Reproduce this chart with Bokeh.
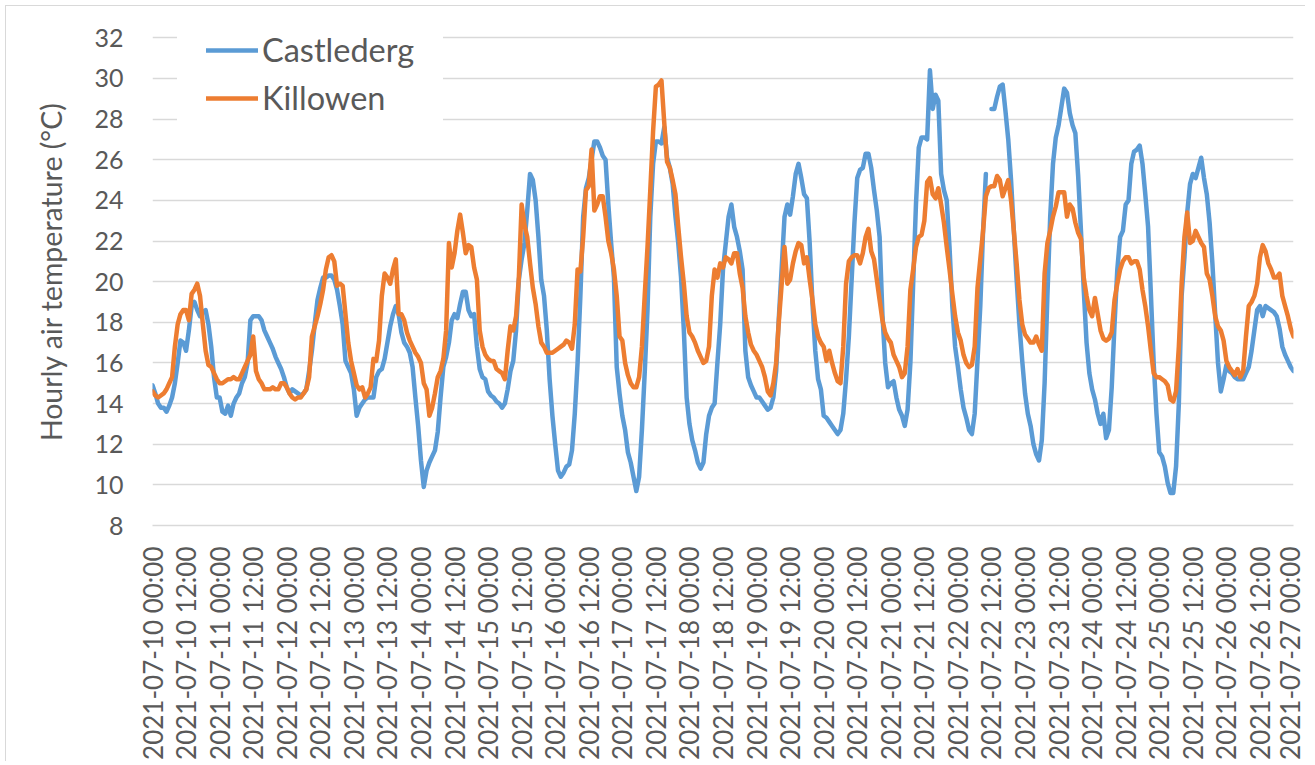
import math
from datetime import datetime, timedelta
from bokeh.plotting import figure
from bokeh.models import Range1d, FixedTicker, DatetimeTickFormatter, Legend, LegendItem
from bokeh.embed import file_html
from bokeh.resources import INLINE

nan = float("nan")

# Hourly air temperature (°C), 2021-07-10 00:00 .. 2021-07-27 00:00, one row per day
castlederg = [
    14.9, 14.5, 14.0, 13.8, 13.8, 13.6, 13.9, 14.3, 15.0, 16.0, 17.1, 17.0, 16.6, 17.6, 18.8, 19.0, 18.6, 18.3, 18.5, 18.6, 17.9, 16.8, 15.3, 14.3,
    14.3, 13.6, 13.5, 13.9, 13.4, 14.0, 14.3, 14.5, 15.0, 15.3, 16.0, 18.1, 18.3, 18.3, 18.3, 18.1, 17.6, 17.3, 17.0, 16.7, 16.3, 16.0, 15.7, 15.3,
    14.8, 14.5, 14.7, 14.6, 14.5, 14.4, 14.5, 14.7, 15.6, 16.6, 17.9, 19.1, 19.7, 20.2, 20.2, 20.3, 20.3, 20.1, 19.6, 18.8, 17.9, 16.1, 15.8, 15.5,
    14.7, 13.4, 13.8, 14.0, 14.2, 14.3, 14.3, 14.3, 15.3, 15.6, 15.7, 16.2, 17.0, 17.8, 18.4, 18.8, 18.4, 17.5, 17.0, 16.8, 16.5, 15.8, 14.3, 12.9,
    11.2, 9.9, 10.7, 11.1, 11.4, 11.7, 12.6, 14.3, 15.8, 16.3, 17.0, 18.1, 18.4, 18.2, 18.9, 19.5, 19.5, 18.6, 18.3, 18.4, 16.8, 15.7, 15.3, 15.2,
    14.6, 14.4, 14.3, 14.1, 14.0, 13.8, 14.0, 14.7, 15.6, 16.1, 17.6, 20.1, 21.1, 21.9, 23.5, 25.3, 25.0, 24.0, 22.2, 20.1, 19.3, 17.6, 15.2, 13.4,
    12.0, 10.7, 10.4, 10.6, 10.9, 11.0, 11.7, 13.5, 16.0, 19.3, 23.2, 24.6, 25.1, 26.0, 26.9, 26.9, 26.6, 26.2, 26.0, 23.8, 21.9, 20.2, 15.8, 14.5,
    13.4, 12.7, 11.6, 11.1, 10.4, 9.7, 10.4, 12.7, 15.5, 18.6, 23.2, 25.8, 26.9, 26.9, 26.8, 27.6, 26.1, 25.6, 24.8, 23.2, 21.9, 20.2, 17.6, 14.3,
    13.0, 12.2, 11.7, 11.1, 10.8, 11.1, 12.5, 13.4, 13.8, 14.0, 16.0, 17.9, 20.6, 21.9, 23.2, 23.8, 22.7, 22.2, 21.5, 20.6, 16.6, 15.3, 14.9, 14.6,
    14.3, 14.3, 14.1, 13.9, 13.7, 13.8, 14.3, 15.6, 18.3, 20.7, 23.2, 23.8, 23.3, 24.2, 25.3, 25.8, 25.1, 24.3, 24.1, 21.9, 18.9, 16.6, 15.2, 14.7,
    13.4, 13.3, 13.1, 12.9, 12.7, 12.5, 12.7, 13.5, 15.2, 17.3, 20.1, 22.9, 25.1, 25.5, 25.6, 26.3, 26.3, 25.6, 24.5, 23.5, 22.2, 18.4, 16.0, 14.8,
    15.0, 15.1, 14.3, 13.7, 13.4, 12.9, 13.7, 16.0, 19.9, 23.8, 26.6, 27.1, 27.1, 27.0, 30.4, 28.5, 29.2, 28.9, 25.3, 24.5, 24.0, 21.7, 18.8, 16.8,
    15.8, 14.7, 13.8, 13.3, 12.7, 12.5, 13.5, 16.1, 18.8, 22.5, 25.3, nan, 28.5, 28.5, 29.1, 29.6, 29.7, 28.4, 27.0, 25.0, 22.5, 20.1, 17.9, 16.1,
    14.5, 13.5, 12.9, 12.0, 11.5, 11.2, 12.2, 15.0, 19.3, 23.2, 25.8, 27.1, 27.7, 28.6, 29.5, 29.3, 28.3, 27.7, 27.3, 25.2, 22.5, 19.6, 17.0, 15.5,
    14.7, 14.2, 13.5, 13.0, 13.5, 12.3, 12.7, 14.8, 17.9, 20.6, 22.2, 22.5, 23.8, 24.0, 25.8, 26.4, 26.5, 26.7, 25.8, 24.3, 22.7, 19.4, 16.0, 13.5,
    11.6, 11.4, 10.9, 10.1, 9.6, 9.6, 10.9, 14.0, 19.3, 21.2, 23.4, 24.8, 25.3, 25.1, 25.6, 26.1, 25.1, 24.3, 22.9, 20.9, 18.4, 16.0, 14.6, 15.2,
    15.9, 15.6, 15.5, 15.3, 15.2, 15.2, 15.2, 15.5, 15.8, 16.6, 17.6, 18.6, 18.8, 18.3, 18.8, 18.7, 18.6, 18.5, 18.3, 17.7, 16.8, 16.4, 16.1, 15.8,
    15.6,
]

killowen = [
    14.6, 14.4, 14.3, 14.4, 14.5, 14.7, 15.0, 15.3, 16.8, 17.9, 18.4, 18.6, 18.6, 18.1, 19.4, 19.6, 19.9, 19.3, 17.9, 16.6, 15.9, 15.8, 15.5, 15.2,
    15.0, 15.0, 15.1, 15.2, 15.2, 15.3, 15.2, 15.2, 15.5, 15.8, 16.1, 16.4, 17.3, 15.6, 15.2, 15.0, 14.7, 14.7, 14.7, 14.8, 14.7, 14.7, 15.0, 15.0,
    14.8, 14.5, 14.3, 14.2, 14.3, 14.3, 14.5, 14.7, 15.3, 17.3, 17.8, 18.3, 18.9, 19.6, 20.6, 21.2, 21.3, 21.0, 19.8, 19.9, 19.8, 18.4, 17.0, 16.1,
    15.5, 14.9, 14.7, 14.8, 14.3, 14.5, 14.8, 16.2, 16.1, 17.1, 19.3, 20.4, 20.2, 19.9, 20.6, 21.1, 18.4, 18.4, 18.1, 17.5, 17.1, 16.8, 16.5, 16.3,
    16.0, 15.0, 14.7, 13.4, 13.8, 14.5, 15.3, 15.6, 16.2, 17.6, 21.9, 20.7, 21.4, 22.5, 23.3, 22.4, 21.4, 21.8, 21.7, 20.7, 20.1, 17.6, 16.8, 16.4,
    16.2, 16.1, 16.1, 15.7, 15.6, 15.5, 15.2, 16.6, 17.8, 17.6, 18.3, 20.2, 23.8, 22.8, 22.2, 20.9, 19.7, 18.9, 17.8, 17.0, 16.8, 16.5, 16.5, 16.5,
    16.6, 16.7, 16.8, 16.9, 17.1, 17.0, 16.7, 17.9, 20.6, 20.5, 22.2, 24.5, 24.7, 26.5, 23.5, 23.8, 24.2, 24.2, 23.2, 22.0, 21.4, 20.6, 19.3, 17.3,
    17.1, 16.0, 15.4, 15.0, 14.8, 14.8, 15.3, 16.8, 19.3, 21.7, 24.5, 27.4, 29.6, 29.7, 29.9, 27.8, 25.9, 25.6, 25.0, 24.3, 22.7, 21.2, 19.9, 18.3,
    17.5, 17.3, 17.0, 16.6, 16.3, 16.0, 16.1, 16.8, 19.3, 20.6, 20.2, 20.9, 20.7, 21.2, 21.1, 20.9, 21.4, 21.4, 20.4, 19.7, 18.3, 17.5, 16.9, 16.6,
    16.4, 16.1, 15.8, 15.3, 14.6, 14.4, 15.0, 16.0, 18.1, 19.9, 21.7, 19.9, 20.1, 20.9, 21.5, 21.9, 21.8, 20.9, 21.2, 20.1, 19.1, 17.9, 17.3, 17.0,
    16.8, 16.1, 16.6, 16.0, 15.5, 15.1, 15.0, 16.8, 19.9, 21.0, 21.2, 21.3, 21.3, 20.9, 21.4, 22.2, 22.6, 21.5, 21.1, 20.1, 19.1, 18.1, 17.5, 17.2,
    17.0, 16.4, 16.1, 15.8, 15.3, 15.5, 16.8, 19.6, 20.6, 21.7, 22.2, 22.3, 23.0, 24.9, 25.1, 24.3, 24.1, 24.6, 23.8, 22.9, 21.7, 20.6, 19.4, 18.3,
    17.5, 17.1, 16.4, 16.0, 15.8, 15.9, 16.8, 19.7, 21.1, 22.5, 24.2, 24.6, 24.7, 24.7, 25.2, 25.0, 24.2, 24.6, 25.0, 24.0, 22.5, 20.9, 19.1, 17.9,
    17.4, 17.2, 17.0, 17.0, 17.3, 16.9, 16.6, 20.4, 21.9, 22.5, 23.2, 23.7, 24.4, 24.4, 24.4, 23.2, 23.8, 23.6, 22.9, 22.4, 22.1, 20.2, 19.3, 18.6,
    18.3, 19.2, 18.4, 17.6, 17.2, 17.1, 17.2, 17.5, 19.1, 19.9, 20.6, 21.0, 21.2, 21.2, 20.9, 21.0, 21.0, 20.6, 19.6, 18.8, 17.8, 16.6, 15.5, 15.3,
    15.3, 15.2, 15.1, 14.9, 14.2, 14.1, 14.6, 16.8, 19.9, 22.2, 23.4, 21.9, 22.0, 22.5, 22.2, 21.9, 21.7, 20.4, 20.1, 19.3, 18.3, 17.8, 17.6, 17.1,
    16.1, 15.8, 15.6, 15.4, 15.7, 15.3, 15.6, 17.3, 18.8, 19.0, 19.3, 19.9, 21.2, 21.8, 21.5, 20.9, 20.6, 20.2, 20.2, 20.4, 19.3, 18.8, 18.3, 17.7,
    17.3,
]

series_names = ["Castlederg", "Killowen"]
series_colors = ["#5B9BD5", "#ED7D31"]
y_ticks = [8, 10, 12, 14, 16, 18, 20, 22, 24, 26, 28, 30, 32]
tick_step_hours = 12

start = datetime(2021, 7, 10, 0, 0)
times = [start + timedelta(hours=i) for i in range(len(castlederg))]
epoch = datetime(1970, 1, 1)
n_ticks = (len(castlederg) - 1) // tick_step_hours + 1
x_ticks = [((start + timedelta(hours=tick_step_hours * i)) - epoch).total_seconds() * 1000 for i in range(n_ticks)]

FONT = "Lato"
TEXT = "#595959"
GRID = "#D9D9D9"

# y range extends one unit above the top gridline so the legend (inside the frame) is not clipped
p = figure(width=1300, height=756, x_axis_type="datetime",
           output_backend="svg", toolbar_location=None,
           x_range=Range1d(times[0], times[-1]), y_range=Range1d(8, 33),
           min_border_left=146, min_border_right=13,
           min_border_top=11, min_border_bottom=236)
p.styles = {"margin-left": "5px", "margin-top": "5px",
            "border-left": "1px solid #D9D9D9", "border-top": "1px solid #D9D9D9"}
p.outline_line_color = None
p.background_fill_color = "white"
p.border_fill_color = "white"

r1 = p.line(times, castlederg, line_color=series_colors[0], line_width=4.5,
            line_join="round", line_cap="round")
r2 = p.line(times, killowen, line_color=series_colors[1], line_width=4.5,
            line_join="round", line_cap="round")

# grid
p.xgrid.visible = False
p.ygrid.grid_line_color = GRID
p.ygrid.grid_line_width = 1.5

# y axis
p.yaxis.ticker = FixedTicker(ticks=y_ticks)
p.yaxis.axis_label = "Hourly air temperature (°C)"
p.yaxis.axis_label_text_font = FONT
p.yaxis.axis_label_text_font_size = "28.5px"
p.yaxis.axis_label_text_font_style = "normal"
p.yaxis.axis_label_text_color = TEXT
p.yaxis.axis_label_standoff = 23
p.yaxis.major_label_text_font = FONT
p.yaxis.major_label_text_font_size = "25px"
p.yaxis.major_label_text_color = TEXT
p.yaxis.major_label_standoff = 29
p.yaxis.axis_line_color = None
p.yaxis.major_tick_line_color = None
p.yaxis.minor_tick_line_color = None
p.yaxis.major_tick_out = 0
p.yaxis.major_tick_in = 0
p.yaxis.minor_tick_out = 0
p.yaxis.minor_tick_in = 0

# x axis
fmt = "%Y-%m-%d %H:%M"
p.xaxis.ticker = FixedTicker(ticks=x_ticks)
p.xaxis.formatter = DatetimeTickFormatter(
    microseconds=fmt, milliseconds=fmt, seconds=fmt, minsec=fmt, minutes=fmt,
    hourmin=fmt, hours=fmt, days=fmt, months=fmt, years=fmt)
p.xaxis.major_label_orientation = math.pi / 2
p.xaxis.major_label_text_font = FONT
p.xaxis.major_label_text_font_size = "26px"
p.xaxis.major_label_text_color = TEXT
p.xaxis.major_label_standoff = 21
p.xaxis.axis_line_color = GRID
p.xaxis.axis_line_width = 1.5
p.xaxis.major_tick_line_color = None
p.xaxis.minor_tick_line_color = None
p.xaxis.major_tick_out = 0
p.xaxis.major_tick_in = 0
p.xaxis.minor_tick_out = 0
p.xaxis.minor_tick_in = 0

legend = Legend(items=[LegendItem(label=series_names[0], renderers=[r1]),
                       LegendItem(label=series_names[1], renderers=[r2])],
                location=(25, 379))
legend.label_text_font = FONT
legend.label_text_font_size = "32.5px"
legend.label_text_color = TEXT
legend.glyph_width = 52
legend.glyph_height = 20
legend.label_standoff = 4
legend.spacing = 9
legend.padding = 28
legend.margin = 0
legend.border_line_color = "white"
legend.border_line_width = 1
legend.background_fill_color = "white"
legend.background_fill_alpha = 1.0
p.add_layout(legend)

open("out.html", "w").write(file_html(p, INLINE))
